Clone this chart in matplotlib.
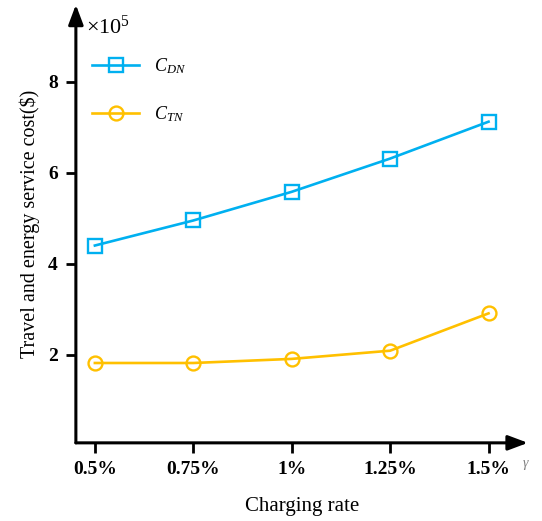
import numpy as np
import matplotlib
matplotlib.use("Agg")
import matplotlib.pyplot as plt

plt.rcParams['font.family'] = ['Liberation Serif', 'DejaVu Serif']
plt.rcParams['mathtext.fontset'] = 'custom'
plt.rcParams['mathtext.rm'] = 'Liberation Serif'
plt.rcParams['mathtext.it'] = 'Liberation Serif:italic'

rates = ['0.5%', '0.75%', '1%', '1.25%', '1.5%']
c_dn = [4.40, 4.95, 5.58, 6.31, 7.12]
c_tn = [1.82, 1.82, 1.91, 2.09, 2.91]
yticks = [2, 4, 6, 8]

blue = '#00B0F0'
orange = '#FFC000'

fig = plt.figure(figsize=(5.42, 5.21), dpi=100)
ax = fig.add_axes([0.140, 0.150, 0.834, 0.841])

x = np.arange(len(rates))
ax.plot(x, c_dn, color=blue, lw=1.9, marker='s', ms=10, mfc='none', mew=1.7, label=r'$C_{DN}$')
ax.plot(x, c_tn, color=orange, lw=1.9, marker='o', ms=10, mfc='none', mew=1.7, label=r'$C_{TN}$')

ax.set_xlim(-0.193, 4.40)
ax.set_ylim(0.066, 9.69)
for s in ax.spines.values():
    s.set_visible(False)

# axis arrows
arrow = dict(arrowstyle='-|>,head_length=1.2,head_width=0.45', lw=2.2, color='black', shrinkA=0, shrinkB=0)
ax.annotate('', xy=(1, 0), xytext=(0, 0), xycoords='axes fraction', arrowprops=arrow, annotation_clip=False)
ax.annotate('', xy=(0, 1), xytext=(0, 0), xycoords='axes fraction', arrowprops=arrow, annotation_clip=False)

ax.set_xticks(x)
ax.set_xticklabels(rates, fontweight='bold', fontsize=14)
ax.set_yticks(yticks)
ax.set_yticklabels([str(v) for v in yticks], fontweight='bold', fontsize=14)
ax.tick_params(axis='both', direction='out', length=7, width=2, pad=6)

ax.set_xlabel('Charging rate', fontsize=15, labelpad=14)
ax.set_ylabel('Travel and energy service cost($)', fontsize=14.5, labelpad=6)

ax.text(0.023, 0.975, r'$\times10^5$', transform=ax.transAxes, fontsize=16, va='top', ha='left')
ax.text(0.995, -0.05, r'$\gamma$', transform=ax.transAxes, fontsize=10, color='gray', ha='center', va='center')

ax.legend(loc='upper left', bbox_to_anchor=(0.0, 0.92), frameon=False, fontsize=13,
          handlelength=2.6, labelspacing=1.6, borderaxespad=0.5)

fig.savefig('out.png', dpi=100)
